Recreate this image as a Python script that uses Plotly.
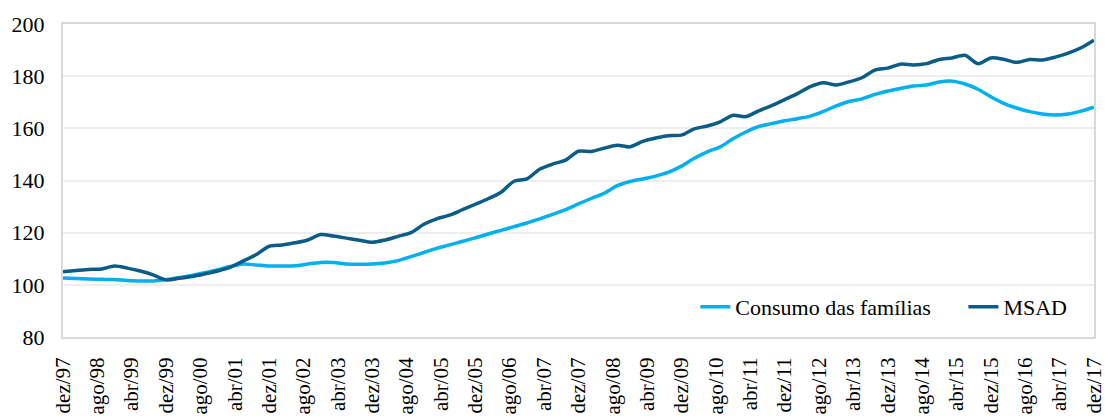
import pandas as pd
import plotly.graph_objects as go

# quarterly observations, Dec/1997 .. Dec/2017
dates = pd.date_range("1997-12-01", periods=81, freq="3MS")

consumo = [102.6, 102.4, 102.2, 102.1, 102.0, 101.7, 101.5, 101.5, 102.0, 102.8,
           103.6, 104.6, 105.8, 107.0, 108.0, 107.6, 107.2, 107.2, 107.3, 108.0,
           108.6, 108.6, 108.0, 107.9, 108.0, 108.4, 109.3, 110.8, 112.4, 114.0,
           115.3, 116.7, 118.0, 119.5, 120.9, 122.3, 123.7, 125.3, 127.0, 128.8,
           131.0, 133.1, 135.1, 138.0, 139.6, 140.6, 141.7, 143.2, 145.5, 148.5,
           151.0, 152.9, 156.0, 158.6, 160.7, 161.8, 162.9, 163.7, 164.7, 166.5,
           168.6, 170.3, 171.3, 173.0, 174.3, 175.3, 176.2, 176.6, 177.8, 178.1,
           177.0, 175.0, 172.1, 169.6, 167.8, 166.4, 165.5, 165.1, 165.5, 166.6,
           168.1]

msad = [105.0, 105.5, 105.9, 106.1, 107.2, 106.4, 105.3, 103.8, 101.9, 102.5,
        103.2, 104.2, 105.3, 106.8, 109.2, 111.6, 114.8, 115.3, 116.1, 117.2,
        119.3, 118.7, 117.9, 117.1, 116.3, 117.2, 118.6, 120.0, 123.2, 125.3,
        126.7, 128.8, 130.9, 133.0, 135.5, 139.7, 140.6, 144.3, 146.3, 147.8,
        151.2, 151.1, 152.4, 153.5, 152.9, 155.0, 156.3, 157.2, 157.4, 159.8,
        160.9, 162.5, 165.0, 164.5, 166.7, 168.7, 171.0, 173.3, 176.0, 177.5,
        176.6, 177.8, 179.4, 182.3, 183.1, 184.6, 184.3, 184.8, 186.4, 187.0,
        188.0, 184.8, 187.0, 186.5, 185.3, 186.4, 186.2, 187.3, 188.8, 190.9,
        193.8]

tick_dates = pd.date_range("1997-12-01", periods=31, freq="8MS")
tick_labels = ["dez/97", "ago/98", "abr/99", "dez/99", "ago/00", "abr/01", "dez/01",
               "ago/02", "abr/03", "dez/03", "ago/04", "abr/05", "dez/05", "ago/06",
               "abr/07", "dez/07", "ago/08", "abr/09", "dez/09", "ago/10", "abr/11",
               "dez/11", "ago/12", "abr/13", "dez/13", "ago/14", "abr/15", "dez/15",
               "ago/16", "abr/17", "dez/17"]

y_ticks = [80, 100, 120, 140, 160, 180, 200]

FONT = "Liberation Serif"
GAP = "\u00a0" * 5

fig = go.Figure()
fig.add_trace(go.Scatter(x=dates, y=consumo, mode="lines", name="Consumo das famílias" + GAP,
                         line=dict(color="#00B0F0", width=3.5, shape="spline", smoothing=0.8)))
fig.add_trace(go.Scatter(x=dates, y=msad, mode="lines", name="MSAD",
                         line=dict(color="#0B5C86", width=3.5, shape="spline", smoothing=0.8)))

x_end = dates[-1] + pd.Timedelta(hours=12)

fig.update_layout(
    width=1105, height=418,
    margin=dict(l=63, r=11, t=24, b=81),
    paper_bgcolor="white", plot_bgcolor="white",
    font=dict(family=FONT, size=22, color="#000000"),
    showlegend=True,
    legend=dict(orientation="h", xanchor="right", x=0.979, yanchor="middle", y=0.096,
                bgcolor="rgba(0,0,0,0)", font=dict(family=FONT, size=22),
                tracegroupgap=0),
    xaxis=dict(
        range=[dates[0], x_end], automargin=False,
        tickmode="array", tickvals=tick_dates, ticktext=tick_labels,
        tickangle=-90, ticks="", showgrid=False,
        showline=True, linecolor="#D9D9D9", linewidth=2, mirror=True,
        ticklabelstandoff=10, ticklabeloverflow="allow", zeroline=False,
        tickfont=dict(family=FONT, size=21, color="#000"),
    ),
    yaxis=dict(
        range=[80, 200], tickmode="array", tickvals=y_ticks, automargin=False,
        ticks="", showgrid=True, gridcolor="#EEEEEE", gridwidth=2,
        showline=True, linecolor="#D9D9D9", linewidth=2, mirror=True,
        ticklabelstandoff=12, zeroline=False,
        tickfont=dict(family=FONT, size=22, color="#000"),
    ),
)

fig.write_html("out.html")
